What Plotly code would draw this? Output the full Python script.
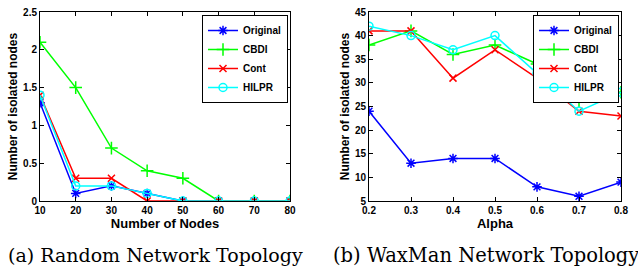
import plotly.graph_objects as go

# ---- data ----
nodes = [10, 20, 30, 40, 50, 60, 70, 80]
rand_original = [1.3, 0.1, 0.2, 0.1, 0, 0, 0, 0]
rand_cbdi = [2.1, 1.5, 0.7, 0.4, 0.3, 0, 0, 0]
rand_cont = [1.4, 0.3, 0.3, 0, 0, 0, 0, 0]
rand_hilpr = [1.4, 0.2, 0.2, 0.1, 0, 0, 0, 0]

alpha = [0.2, 0.3, 0.4, 0.5, 0.6, 0.7, 0.8]
wax_original = [24, 13, 14, 14, 8, 6, 9]
wax_cbdi = [38, 41, 36, 38, 34, 26, 28]
wax_cont = [41, 41, 31, 37, 31, 24, 23]
wax_hilpr = [42, 40, 37, 40, 32, 24, 28]

series_names = ["Original", "CBDI", "Cont", "HILPR"]
left_y_ticks = [0, 0.5, 1, 1.5, 2, 2.5]
left_y_labels = ["0", "0.5", "1", "1.5", "2", "2.5"]
right_x_labels = ["0.2", "0.3", "0.4", "0.5", "0.6", "0.7", "0.8"]
captions = ["(a) Random Network Topology", "(b) WaxMan Network Topology"]

W, H = 638, 268
colors = ["#0000ff", "#00ff00", "#ff0000", "#00ffff"]
symbols = ["asterisk-open", "cross-thin-open", "x-thin-open", "circle-open"]
msizes = [8, 9, 7, 8]

fig = go.Figure()

left_sets = [rand_original, rand_cbdi, rand_cont, rand_hilpr]
right_sets = [wax_original, wax_cbdi, wax_cont, wax_hilpr]

for i, name in enumerate(series_names):
    fig.add_trace(go.Scatter(
        x=nodes, y=left_sets[i], name=name, mode="lines+markers",
        line=dict(color=colors[i], width=1.5),
        marker=dict(symbol=symbols[i], size=msizes[i], color=colors[i],
                    line=dict(color=colors[i], width=1.5)),
        xaxis="x", yaxis="y", legend="legend"))
for i, name in enumerate(series_names):
    fig.add_trace(go.Scatter(
        x=alpha, y=right_sets[i], name=name, mode="lines+markers",
        line=dict(color=colors[i], width=1.5),
        marker=dict(symbol=symbols[i], size=msizes[i], color=colors[i],
                    line=dict(color=colors[i], width=1.5)),
        xaxis="x2", yaxis="y2", legend="legend2"))

def px_x(p):
    return p / W

def px_y(p):
    return (H - p) / H

tickfont = dict(family="Liberation Sans", size=10, color="black", weight="bold")
xtitlefont = dict(family="Liberation Sans", size=13, color="black", weight="bold")
ytitlefont = dict(family="Liberation Sans", size=12, color="black", weight="bold")

common = dict(showline=True, linecolor="black", linewidth=1, mirror="ticks",
              ticks="inside", ticklen=4, tickcolor="black", showgrid=False,
              zeroline=False, automargin=False, tickfont=tickfont)

legend_common = dict(xanchor="right", yanchor="top",
                     bgcolor="white", bordercolor="black", borderwidth=1,
                     font=dict(family="Liberation Sans", size=10, color="black", weight="bold"),
                     itemwidth=30, tracegroupgap=0)

fig.update_layout(
    width=W, height=H,
    margin=dict(l=0, r=0, t=0, b=0),
    paper_bgcolor="white", plot_bgcolor="white",
    xaxis=dict(domain=[px_x(40), px_x(290)], range=[10, 80], tickvals=nodes,
               anchor="y",
               title=dict(text="Number of Nodes", font=xtitlefont, standoff=1), **common),
    yaxis=dict(domain=[px_y(201), px_y(12)], range=[0, 2.5], tickvals=left_y_ticks,
               ticktext=left_y_labels, anchor="x",
               title=dict(text="Number of isolated nodes", font=ytitlefont, standoff=2), **common),
    xaxis2=dict(domain=[px_x(369), px_x(621)], range=[0.2, 0.8], tickvals=alpha,
                ticktext=right_x_labels, anchor="y2",
                title=dict(text="Alpha", font=xtitlefont, standoff=1), **common),
    yaxis2=dict(domain=[px_y(201), px_y(12)], range=[5, 45], dtick=5, tick0=5,
                anchor="x2",
                title=dict(text="Number of isolated nodes", font=ytitlefont, standoff=2), **common),
    legend=dict(x=px_x(288), y=px_y(15), **legend_common),
    legend2=dict(x=px_x(619), y=px_y(15), **legend_common),
    showlegend=True,
)

fig.add_annotation(text=captions[0], x=px_x(155), y=px_y(255), xref="paper", yref="paper",
                   xanchor="center", yanchor="middle", showarrow=False,
                   font=dict(family="DejaVu Serif", size=19, color="black"))
fig.add_annotation(text=captions[1], x=px_x(331), y=px_y(255), xref="paper", yref="paper",
                   xanchor="left", yanchor="middle", showarrow=False,
                   font=dict(family="DejaVu Serif", size=19.5, color="black"))

fig.write_html("out.html", config={"displayModeBar": False},
               post_script="document.body.style.margin='0';document.body.style.overflow='hidden';")
